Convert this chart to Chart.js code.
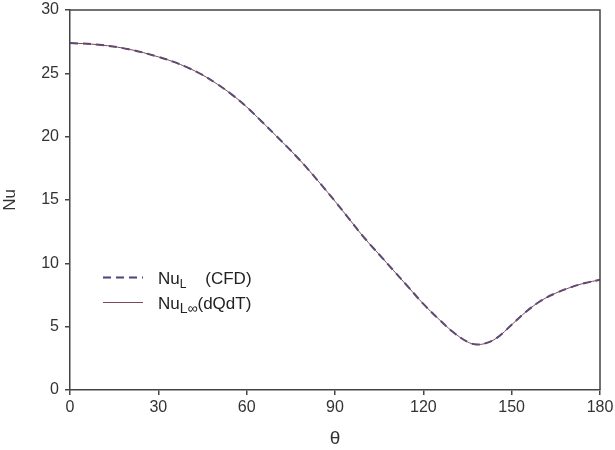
<!DOCTYPE html>
<html>
<head>
<meta charset="utf-8">
<script src="https://cdn.jsdelivr.net/npm/chart.js@4/dist/chart.umd.min.js"></script>
<style>
  html, body { margin: 0; padding: 0; background: #fff; }
  #wrap { width: 615px; height: 450px; position: relative; }
</style>
</head>
<body>
<div id="wrap"><canvas id="c" width="615" height="450"></canvas></div>
<script>
// Data
const theta = [0, 10, 20, 30, 35, 40, 45, 50, 55, 60, 65, 70, 75, 80, 85, 90, 95, 100, 105, 110, 115, 120, 125, 130, 135, 138, 141, 145, 150, 155, 160, 165, 170, 175, 180];
const nuCFD = [27.4, 27.25, 26.9, 26.3, 25.92, 25.45, 24.87, 24.15, 23.32, 22.35, 21.22, 20.07, 18.9, 17.65, 16.3, 14.9, 13.45, 12.0, 10.7, 9.4, 8.1, 6.8, 5.65, 4.6, 3.8, 3.6, 3.68, 4.12, 5.15, 6.2, 7.05, 7.65, 8.1, 8.45, 8.7];
const nuDQDT = [27.4, 27.25, 26.9, 26.3, 25.92, 25.45, 24.87, 24.15, 23.32, 22.35, 21.22, 20.07, 18.9, 17.65, 16.3, 14.9, 13.45, 12.0, 10.7, 9.4, 8.1, 6.8, 5.65, 4.6, 3.8, 3.6, 3.68, 4.12, 5.15, 6.2, 7.05, 7.65, 8.1, 8.45, 8.7];
const xTicks = [0, 30, 60, 90, 120, 150, 180];
const yTicks = [0, 5, 10, 15, 20, 25, 30];

const cfdColor = '#45457f';
const dqdtColor = '#7a4a5a';
const axisColor = '#444';
const FONT = '"Liberation Sans", Arial, sans-serif';

const toPts = (xs, ys) => xs.map((x, i) => ({ x: x, y: ys[i] }));

const boxPlugin = {
  id: 'box',
  afterDraw(chart) {
    const { ctx, chartArea: a } = chart;
    ctx.save();
    ctx.strokeStyle = axisColor;
    ctx.lineWidth = 1.5;
    ctx.beginPath();
    ctx.moveTo(a.left, a.top);
    ctx.lineTo(a.right, a.top);
    ctx.lineTo(a.right, a.bottom);
    ctx.stroke();
    ctx.restore();
  }
};

const legendPlugin = {
  id: 'customLegend',
  afterDraw(chart) {
    const { ctx, chartArea: a } = chart;
    const x0 = a.left + 33, x1 = a.left + 73, tx = a.left + 88;
    const rows = [
      { y: 277.5, color: cfdColor, dash: [8, 5], width: 2, main: 'Nu', sub: 'L', rest: '    (CFD)', subSize: 12 },
      { y: 302.5, color: dqdtColor, dash: [], width: 1, main: 'Nu', sub: 'L\u221E', rest: '(dQdT)', subSize: 14 }
    ];
    ctx.save();
    rows.forEach(r => {
      ctx.strokeStyle = r.color;
      ctx.lineWidth = r.width;
      ctx.setLineDash(r.dash);
      ctx.beginPath();
      ctx.moveTo(x0, r.y);
      ctx.lineTo(x1, r.y);
      ctx.stroke();
      ctx.setLineDash([]);
      ctx.fillStyle = '#222';
      ctx.textBaseline = 'alphabetic';
      ctx.font = '17px ' + FONT;
      let x = tx;
      ctx.fillText(r.main, x, r.y + 6);
      x += ctx.measureText(r.main).width;
      ctx.font = r.subSize + 'px ' + FONT;
      ctx.fillText(r.sub, x, r.y + 10);
      x += ctx.measureText(r.sub).width;
      ctx.font = '17px ' + FONT;
      ctx.fillText(r.rest, x, r.y + 6);
    });
    ctx.restore();
  }
};

new Chart(document.getElementById('c'), {
  type: 'line',
  data: {
    datasets: [
      {
        label: 'NuL (CFD)',
        data: toPts(theta, nuCFD),
        borderColor: cfdColor,
        borderWidth: 2,
        borderDash: [8, 5],
        pointRadius: 0,
        tension: 0.4,
        fill: false,
        order: 2
      },
      {
        label: 'NuL\u221E(dQdT)',
        data: toPts(theta, nuDQDT),
        borderColor: dqdtColor,
        borderWidth: 1,
        pointRadius: 0,
        tension: 0.4,
        fill: false,
        order: 1
      }
    ]
  },
  options: {
    responsive: false,
    animation: false,
    devicePixelRatio: 1,
    layout: { padding: { top: 10, right: 15, left: 0, bottom: 0 } },
    plugins: {
      legend: { display: false },
      tooltip: { enabled: false }
    },
    scales: {
      x: {
        type: 'linear',
        min: 0, max: 180,
        afterBuildTicks: s => { s.ticks = xTicks.map(v => ({ value: v })); },
        afterFit: s => { s.height = 60; s.paddingLeft = 0; s.paddingRight = 0; },
        grid: { drawOnChartArea: false, drawTicks: true, tickLength: 5, color: axisColor, lineWidth: 1.5 },
        border: { display: true, color: axisColor, width: 1.5 },
        ticks: { color: '#333', font: { family: FONT, size: 16 }, padding: 3, maxRotation: 0 },
        title: { display: true, text: '\u03B8', color: '#333', font: { family: FONT, size: 19 }, padding: { top: 4, bottom: 0 } }
      },
      y: {
        min: 0, max: 30,
        afterBuildTicks: s => { s.ticks = yTicks.map(v => ({ value: v })); },
        afterFit: s => { s.width = 70; s.paddingTop = 0; s.paddingBottom = 0; },
        grid: { drawOnChartArea: false, drawTicks: true, tickLength: 5, color: axisColor, lineWidth: 1.5 },
        border: { display: true, color: axisColor, width: 1.5 },
        ticks: { color: '#333', font: { family: FONT, size: 16 }, padding: 6 },
        title: { display: true, text: 'Nu', color: '#333', font: { family: FONT, size: 17 }, padding: { top: 0, bottom: 14 } }
      }
    }
  },
  plugins: [boxPlugin, legendPlugin]
});
</script>
</body>
</html>
